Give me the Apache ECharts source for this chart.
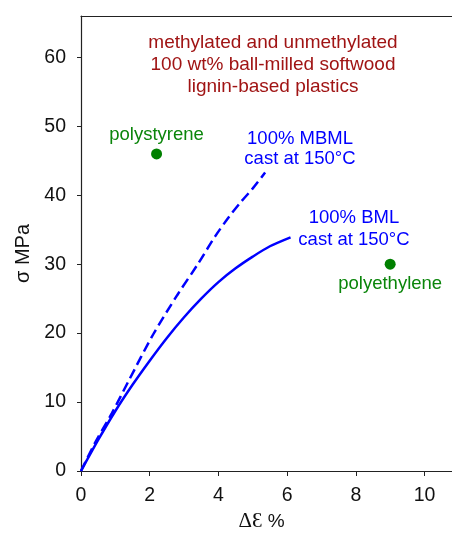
<!DOCTYPE html>
<html>
<head>
<meta charset="utf-8">
<script src="https://cdn.jsdelivr.net/npm/echarts@6/dist/echarts.min.js"></script>
<style>
html, body { margin: 0; padding: 0; background: #fff; }
#main { width: 452px; height: 536px; }
</style>
</head>
<body>
<div id="main"></div>
<script>
// 100% BML cast at 150°C (solid)
var bmlStrain = [0, 0.5, 1.0, 1.5, 2.0, 2.5, 3.0, 3.5, 4.0, 4.5, 5.0, 5.5, 6.1];
var bmlStress = [0, 4.5, 8.7, 12.5, 16.0, 19.3, 22.3, 25.0, 27.4, 29.4, 31.1, 32.6, 33.9];
// 100% MBML cast at 150°C (dashed)
var mbmlStrain = [0, 0.4, 0.9, 1.4, 2.1, 2.8, 3.4, 3.9, 4.3, 4.65, 5.0, 5.36];
var mbmlStress = [0, 4.0, 8.4, 13.2, 19.8, 25.5, 30.0, 34.0, 36.8, 39.0, 41.0, 43.3];
// reference plastics
var refNames = ['polystyrene', 'polyethylene'];
var refStrain = [2.2, 9.0];
var refStress = [46, 30];

var xTicks = [0, 2, 4, 6, 8, 10];
var yTicks = [0, 10, 20, 30, 40, 50, 60];

function pairs(xs, ys) {
    return xs.map(function (x, i) { return [x, ys[i]]; });
}

var axisColor = '#222';
var blue = '#0000ff';
var green = '#0a850a';
var font = 'Liberation Sans, Arial, sans-serif';

var myChart = echarts.init(document.getElementById('main'));
var option = {
    backgroundColor: '#fff',
    animation: false,
    grid: { left: 81, right: 0, top: 16, bottom: 65, containLabel: false, outerBoundsMode: 'none' },
    xAxis: [{
        type: 'value',
        min: 0,
        max: 10.8,
        interval: 2,
        splitLine: { show: false },
        axisLine: { lineStyle: { color: axisColor, width: 1.2 } },
        axisTick: { length: 5, lineStyle: { color: axisColor } },
        axisLabel: {
            color: '#111', fontSize: 19.5, fontFamily: font, margin: 15,
            showMaxLabel: false,
            formatter: function (v) { return xTicks.indexOf(v) >= 0 ? String(v) : ''; }
        },
        name: '{s|ΔƐ} %',
        nameLocation: 'middle',
        nameGap: 40,
        nameTextStyle: {
            color: '#111', fontSize: 19, fontFamily: font, padding: [0, 10, 0, 0],
            rich: { s: { fontFamily: 'Liberation Serif, serif', fontSize: 21, color: '#111' } }
        }
    }, {
        type: 'value',
        position: 'top',
        min: 0,
        max: 10.8,
        axisLine: { show: true, lineStyle: { color: axisColor, width: 1.2 } },
        axisTick: { show: false },
        axisLabel: { show: false },
        splitLine: { show: false }
    }],
    yAxis: {
        type: 'value',
        min: 0,
        max: 66,
        interval: 10,
        splitLine: { show: false },
        axisLine: { show: true, lineStyle: { color: axisColor, width: 1.2 } },
        axisTick: { show: true, length: 4, lineStyle: { color: axisColor } },
        axisLabel: {
            color: '#111', fontSize: 19.5, fontFamily: font, margin: 15,
            showMaxLabel: false,
            formatter: function (v) { return yTicks.indexOf(v) >= 0 ? String(v) : ''; }
        },
        name: 'σ MPa',
        nameLocation: 'middle',
        nameGap: 46,
        nameTextStyle: { color: '#111', fontSize: 20, fontFamily: font, padding: [0, 20, 0, 0] }
    },
    graphic: [
        {
            type: 'text', x: 273, y: 65,
            style: {
                text: 'methylated and unmethylated\n100 wt% ball-milled softwood\nlignin-based plastics',
                align: 'center', verticalAlign: 'middle', fill: '#a01414',
                font: '19px ' + font, lineHeight: 22
            }
        },
        {
            type: 'text', x: 300, y: 149,
            style: {
                text: '100% MBML\ncast at 150°C', align: 'center', verticalAlign: 'middle',
                fill: blue, font: '18.5px ' + font, lineHeight: 20.5
            }
        },
        {
            type: 'text', x: 354, y: 229,
            style: {
                text: '100% BML\ncast at 150°C', align: 'center', verticalAlign: 'middle',
                fill: blue, font: '18.5px ' + font, lineHeight: 22
            }
        }
    ],
    series: [
        {
            name: '100% BML',
            type: 'line',
            data: pairs(bmlStrain, bmlStress),
            smooth: 0.3,
            showSymbol: false,
            lineStyle: { color: blue, width: 2.5 }
        },
        {
            name: '100% MBML',
            type: 'line',
            data: pairs(mbmlStrain, mbmlStress),
            smooth: 0.3,
            showSymbol: false,
            lineStyle: { color: blue, width: 2.5, type: [10, 5] }
        },
        {
            name: 'reference',
            type: 'scatter',
            symbolSize: 11,
            itemStyle: { color: '#008000', opacity: 1 },
            data: refNames.map(function (n, i) {
                return {
                    name: n,
                    value: [refStrain[i], refStress[i]],
                    label: {
                        show: true,
                        position: i === 0 ? 'top' : 'bottom',
                        distance: i === 0 ? 4 : 5,
                        formatter: '{b}',
                        color: green,
                        fontSize: 18.5,
                        fontFamily: font
                    }
                };
            })
        }
    ]
};
myChart.setOption(option);
window.onresize = myChart.resize;
</script>
</body>
</html>
